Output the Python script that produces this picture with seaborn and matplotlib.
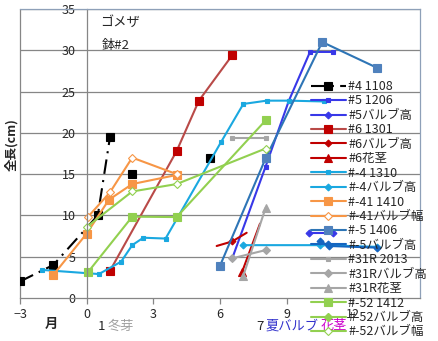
import matplotlib
matplotlib.use("Agg")
import matplotlib.pyplot as plt
import seaborn as sns
import pandas as pd
from matplotlib.lines import Line2D

# ---------------- data (None = gap in a series) ----------------
s4_1108_x = [-3, -1.5, 0.5, 1.05, None, 2.05, None, 5.55]
s4_1108_y = [2, 4, 10, 19.5, None, 15, None, 17]

s5_1206_x = [6.55, 8.05, 9.1, 10.05, 11.1]
s5_1206_y = [4.8, 15.9, 23.9, 29.8, 29.8]
s5_bulb_h_x = [10.0, 11.1]
s5_bulb_h_y = [7.9, 7.9]

s6_1301_x = [1.05, 4.05, 5.05, 6.55]
s6_1301_y = [3.3, 17.8, 23.9, 29.4]
s6_bulb_h_x = [5.85, 6.55, 7.2]
s6_bulb_h_y = [6.3, 6.85, 7.9]
s6_stem_x = [7.0, 7.8]
s6_stem_y = [3.2, 9.0]

sm4_1310_x = [-2.0, 0.55, 1.55, 2.05, 2.55, 3.55, 6.05, 7.05, 8.1, 9.1, 10.7]
sm4_1310_y = [3.4, 2.9, 4.4, 6.4, 7.3, 7.2, 18.9, 23.5, 23.9, 23.9, 23.8]
sm4_bulb_h_x = [7.05, 10.5, 13.05]
sm4_bulb_h_y = [6.4, 6.4, 6.2]

sm41_1410_x = [-1.5, 0.0, 1.0, 2.05, 4.05]
sm41_1410_y = [2.8, 7.8, 11.9, 13.8, 14.9]
sm41_bulb_w_x = [0.05, 1.05, 2.05, 4.05]
sm41_bulb_w_y = [9.8, 12.8, 17.0, 15.0]

sm5_1406_x = [6.0, 8.05, 10.6, 13.05]
sm5_1406_y = [3.9, 16.9, 31.0, 27.9]
sm5_bulb_h_x = [10.5, 10.9, 13.05]
sm5_bulb_h_y = [6.9, 6.3, 6.1]

s31r_2013_x = [6.55, 8.05]
s31r_2013_y = [19.4, 19.4]
s31r_bulb_h_x = [6.55, 8.05]
s31r_bulb_h_y = [4.8, 5.8]
s31r_stem_x = [7.05, 8.05]
s31r_stem_y = [2.7, 10.9]

sm52_1412_x = [0.05, 2.05, 4.05, 8.05]
sm52_1412_y = [3.1, 9.85, 9.8, 21.5]
sm52_bulb_h_x = []
sm52_bulb_h_y = []
sm52_bulb_w_x = [0.0, 2.05, 4.05, 8.05]
sm52_bulb_w_y = [8.6, 12.9, 13.8, 18.1]

x_ticks = [-3, 0, 3, 6, 9, 12]
y_ticks = [0, 5, 10, 15, 20, 25, 30, 35]

# ---------------- style ----------------
sns.set_style("white")
plt.rcParams["font.family"] = ["Noto Sans CJK JP", "DejaVu Sans"]

W, H = 439, 341
fig = plt.figure(figsize=(W / 100, H / 100), dpi=100)
L, R, T, B = 20, 420, 9, 298
ax = fig.add_axes([L / W, 1 - B / H, (R - L) / W, (B - T) / H])

handles = []


def draw(xs, ys, label, color, marker, ms, mfc=None, lw=1.5,
         mec=None, dashes=None, markevery=None):
    segs, cur = [], ([], [])
    for a, b in zip(xs, ys):
        if a is None:
            if cur[0]:
                segs.append(cur)
            cur = ([], [])
        else:
            cur[0].append(a)
            cur[1].append(b)
    if cur[0]:
        segs.append(cur)
    first = None
    for sx, sy in segs:
        df = pd.DataFrame({"x": sx, "y": sy})
        kw = dict(color=color, marker=marker, markersize=ms, lw=lw,
                  markerfacecolor=mfc if mfc else color,
                  markeredgecolor=mec if mec else color,
                  markeredgewidth=0.8)
        if markevery is not None:
            kw["markevery"] = markevery
        sns.lineplot(data=df, x="x", y="y", ax=ax, sort=False,
                     estimator=None, legend=False, **kw)
        ln = ax.lines[-1]
        if dashes:
            ln.set_dashes(dashes)
        if first is None:
            first = ln
    if first is None:
        first = Line2D([], [], color=color, marker=marker, markersize=ms, lw=lw,
                       markerfacecolor=mfc if mfc else color,
                       markeredgecolor=mec if mec else color)
    handles.append((first, label))


BLACK = "#000000"
BLUE5 = "#3838E8"
RED = "#C00000"
REDL = "#B94A48"
LBLUE = "#1AA8E0"
ORANGE = "#F79646"
STEEL = "#2E75B6"
DBLUE = "#1565C0"
GRAY = "#A6A6A6"
GREEN = "#92D050"

draw(s4_1108_x, s4_1108_y, "#4 1108", BLACK, "s", 5.5, dashes=(7, 3, 1, 3))
draw(s5_1206_x, s5_1206_y, "#5 1206", BLUE5, "s", 3)
draw(s5_bulb_h_x, s5_bulb_h_y, "#5バルブ高", BLUE5, "D", 3.5)
draw(s6_1301_x, s6_1301_y, "#6 1301", REDL, "s", 5.5, mfc=RED, mec=RED)
draw(s6_bulb_h_x, s6_bulb_h_y, "#6バルブ高", RED, "D", 3.5, markevery=[1])
draw(s6_stem_x, s6_stem_y, "#6花茎", RED, "^", 5.5, markevery=[0])
draw(sm4_1310_x, sm4_1310_y, "#-4 1310", LBLUE, "s", 3)
draw(sm4_bulb_h_x, sm4_bulb_h_y, "#-4バルブ高", LBLUE, "D", 3.5)
draw(sm41_1410_x, sm41_1410_y, "#-41 1410", ORANGE, "s", 5.5)
draw(sm41_bulb_w_x, sm41_bulb_w_y, "#-41バルブ幅", ORANGE, "D", 4, mfc="white", mec=ORANGE)
draw(sm5_1406_x, sm5_1406_y, "#-5 1406", STEEL, "s", 5.5, mfc="#4F81BD", mec="#4F81BD")
draw(sm5_bulb_h_x, sm5_bulb_h_y, "#-5バルブ高", DBLUE, "D", 3.5)
draw(s31r_2013_x, s31r_2013_y, "#31R 2013", GRAY, "s", 3)
draw(s31r_bulb_h_x, s31r_bulb_h_y, "#31Rバルブ高", GRAY, "D", 4)
draw(s31r_stem_x, s31r_stem_y, "#31R花茎", GRAY, "^", 5.5)
draw(sm52_1412_x, sm52_1412_y, "#-52 1412", GREEN, "s", 5.5)
draw(sm52_bulb_h_x, sm52_bulb_h_y, "#-52バルブ高", GREEN, "D", 4)
draw(sm52_bulb_w_x, sm52_bulb_w_y, "#-52バルブ幅", GREEN, "D", 4, mfc="white", mec=GREEN)

# ---------------- axes ----------------
ax.set_xlim(-3, 15)
ax.set_ylim(0, 35)
ax.set_xlabel("")
ax.set_ylabel("")

GRID = "#868686"
for yv in y_ticks[1:]:
    ax.axhline(yv, color=GRID, lw=0.9, zorder=0)
ax.axvline(-3, color=GRID, lw=0.9, zorder=0, clip_on=False)

for s in ["top", "right"]:
    ax.spines[s].set_color("#8EA0B8")
    ax.spines[s].set_linewidth(0.9)
ax.spines["left"].set_position(("data", 0))
ax.spines["left"].set_color(GRID)
ax.spines["left"].set_linewidth(0.9)
ax.spines["bottom"].set_color(GRID)
ax.spines["bottom"].set_linewidth(0.9)

ax.set_xticks(x_ticks)
ax.set_xticklabels([str(v).replace("-", "−") for v in x_ticks])
ax.set_yticks(y_ticks)
ax.set_yticklabels([str(v) for v in y_ticks])
ax.tick_params(axis="x", direction="out", length=4, width=0.9, color=GRID,
               labelsize=9, pad=3, bottom=True)
ax.tick_params(axis="y", length=0, labelsize=9, pad=8, left=True)

leg = fig.legend([h for h, _ in handles], [l for _, l in handles],
                 loc="upper left", bbox_to_anchor=(311 / W, 1 - 80 / H),
                 frameon=False, fontsize=9, handlelength=2.8,
                 handletextpad=0.2, labelspacing=0.115, borderpad=0,
                 borderaxespad=0)

# ---------------- texts ----------------
fig.text(100 / W, 1 - 22 / H, "ゴメザ", fontsize=9.5, va="center", ha="left")
fig.text(102 / W, 1 - 45 / H, "鉢#2", fontsize=9.5, va="center", ha="left")
fig.text(12 / W, 1 - 145 / H, "全長(cm)", fontsize=9, fontweight="bold",
         rotation=90, va="center", ha="center")
fig.text(51 / W, 1 - 324 / H, "月", fontsize=9.5, fontweight="bold",
         va="center", ha="center")
fig.text(98 / W, 1 - 326 / H, "1", fontsize=9.5, va="center", ha="left")
fig.text(108 / W, 1 - 326 / H, "冬芽", fontsize=9.5, va="center", ha="left",
         color="#A0A0A0")
fig.text(256 / W, 1 - 326 / H, "7", fontsize=9.5, va="center", ha="left")
fig.text(266 / W, 1 - 326 / H, "夏バルブ", fontsize=9.5, va="center", ha="left",
         color="#3333CC")
fig.text(321 / W, 1 - 326 / H, "花茎", fontsize=9.5, va="center", ha="left",
         color="#CC00CC")

fig.savefig("out.png", dpi=100)
